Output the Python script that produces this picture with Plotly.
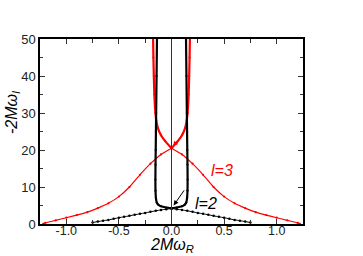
import plotly.graph_objects as go

# l=2 branch (lower, black) left half
l2_x = [-0.75, -0.7, -0.65, -0.6, -0.55, -0.5, -0.45, -0.4, -0.35, -0.3, -0.25, -0.2, -0.15, -0.1, -0.05, 0.0]
l2_y = [0.4, 0.65, 0.9, 1.1, 1.4, 1.7, 1.95, 2.2, 2.5, 2.75, 3.0, 3.3, 3.55, 3.8, 4.0, 4.2]
# l=2 near-vertical branch (black), from centre going up
b2_x = [0.0, 0.05, 0.1, 0.125, 0.14, 0.148, 0.152, 0.153, 0.152, 0.15, 0.148, 0.146, 0.142, 0.138]
b2_y = [4.2, 4.45, 4.8, 5.2, 5.8, 7.0, 9.0, 12.0, 16.0, 20.0, 25.0, 30.0, 40.0, 50.0]
# l=3 bell (red) left half
l3_x = [-1.22, -1.2, -1.1, -1.0, -0.9, -0.8, -0.7, -0.6, -0.5, -0.4, -0.3, -0.2, -0.1, 0.0]
l3_y = [0.05, 0.3, 1.0, 1.7, 2.4, 3.2, 4.3, 5.6, 7.4, 10.0, 13.3, 16.3, 18.8, 20.5]
# l=3 near-vertical branch (red), from crossing going up
b3_x = [0.0, 0.06, 0.1, 0.13, 0.145, 0.153, 0.163, 0.168, 0.172, 0.175]
b3_y = [20.5, 22.4, 24.0, 26.0, 28.0, 30.0, 35.0, 40.0, 45.0, 50.0]

x_ticks = [-1.0, -0.5, 0.0, 0.5, 1.0]
x_tick_labels = ["-1.0", "-0.5", "0.0", "0.5", "1.0"]
y_ticks = [0, 10, 20, 30, 40, 50]

fig = go.Figure()

def add_curve(xs, ys, color, width, msize):
    fig.add_trace(go.Scatter(x=xs, y=ys, mode="lines+markers",
                             line=dict(color=color, width=width, shape="spline", smoothing=0.6),
                             marker=dict(color=color, size=msize),
                             showlegend=False, hoverinfo="skip"))

# red curves: left bell continuing to right branch, and its mirror
add_curve(l3_x, l3_y, "#ff0000", 1.2, 2.2)
add_curve([-v for v in l3_x], l3_y, "#ff0000", 1.2, 2.2)
add_curve(b3_x, b3_y, "#ff0000", 2.2, 2.2)
add_curve([-v for v in b3_x], b3_y, "#ff0000", 2.2, 2.2)
# black curves
add_curve(l2_x, l2_y, "#000000", 1.0, 2.5)
add_curve([-v for v in l2_x], l2_y, "#000000", 1.0, 2.5)
add_curve(b2_x, b2_y, "#000000", 2.2, 2.2)
add_curve([-v for v in b2_x], b2_y, "#000000", 2.2, 2.2)

# vertical line at x = 0
fig.add_shape(type="line", x0=0, x1=0, y0=0, y1=50, xref="x", yref="y",
              line=dict(color="#333333", width=1))

font = "Liberation Sans, Arial, sans-serif"
W, H = 363, 256
ml, mr, mt, mb = 40, 60, 39, 32
pw, ph = W - ml - mr, H - mt - mb

ann = []
# arrows
ann.append(dict(x=0.02, y=5.0, ax=0.13, ay=9.5, xref="x", yref="y", axref="x", ayref="y",
                showarrow=True, arrowhead=2, arrowsize=1, arrowwidth=1, arrowcolor="#000000", text=""))
ann.append(dict(x=0.015, y=21.0, ax=0.13, ay=25.0, xref="x", yref="y", axref="x", ayref="y",
                showarrow=True, arrowhead=2, arrowsize=1, arrowwidth=1, arrowcolor="#ff0000", text=""))
# labels
ann.append(dict(x=0.48, y=14.5, xref="x", yref="y", text="<i>l=3</i>", showarrow=False,
                font=dict(family=font, size=16, color="#ff0000")))
ann.append(dict(x=0.33, y=5.5, xref="x", yref="y", text="<i>l=2</i>", showarrow=False,
                font=dict(family=font, size=16, color="#000000")))
# axis titles
ann.append(dict(x=(172 - ml) / pw, y=-(245.5 - (H - mb)) / ph, xref="paper", yref="paper",
                yanchor="middle", text="<i>2Mω<sub>R</sub></i>", showarrow=False,
                font=dict(family=font, size=16, color="#000000")))
ann.append(dict(x=(12 - ml) / pw, y=((H - mb) - 113) / ph, xref="paper", yref="paper",
                xanchor="center", yanchor="middle",
                text="<i>-2Mω<sub>I</sub></i>", showarrow=False, textangle=-90,
                font=dict(family=font, size=16, color="#000000")))

fig.update_layout(
    width=W, height=H,
    margin=dict(l=ml, r=mr, t=mt, b=mb),
    plot_bgcolor="white", paper_bgcolor="white",
    font=dict(family=font, size=13, color="#222222"),
    annotations=ann,
    xaxis=dict(range=[-1.25, 1.25], tickvals=x_ticks, ticktext=x_tick_labels,
               tickfont=dict(size=12.5),
               ticks="inside", ticklen=5, tickwidth=1, tickcolor="#333",
               ticklabelstandoff=-6,
               showline=True, linecolor="#000", linewidth=1.5, mirror="ticks",
               showgrid=False, zeroline=False,
               minor=dict(dtick=0.25, ticks="inside", ticklen=4, tickcolor="#333", showgrid=False)),
    yaxis=dict(range=[0, 50], tickvals=y_ticks,
               ticks="inside", ticklen=5, tickwidth=1, tickcolor="#333",
               showline=True, linecolor="#000", linewidth=1.5, mirror="ticks",
               showgrid=False, zeroline=False,
               minor=dict(dtick=5, ticks="inside", ticklen=3, tickcolor="#333", showgrid=False)),
)

fig.write_html("out.html", config={"displayModeBar": False},
               post_script="document.body.style.margin='0';document.body.style.overflow='hidden';")
